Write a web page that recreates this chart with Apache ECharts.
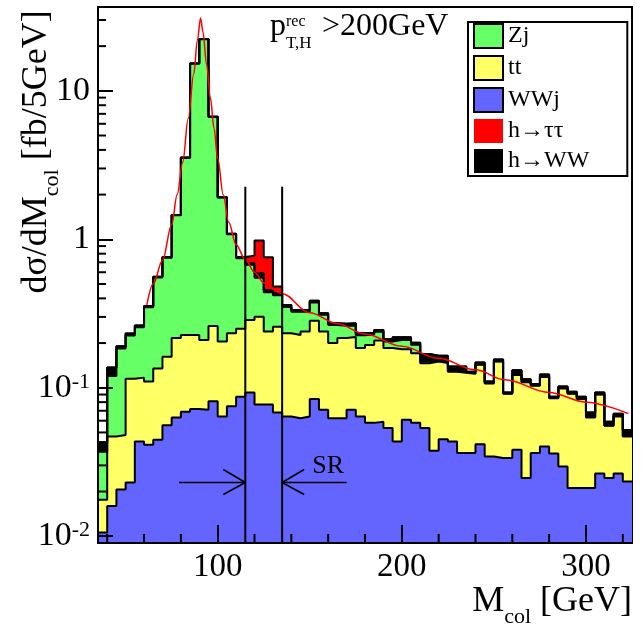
<!DOCTYPE html>
<html><head><meta charset="utf-8">
<script src="https://cdn.jsdelivr.net/npm/echarts@6/dist/echarts.min.js"></script>
<style>html,body{margin:0;padding:0;background:#fff}#c{width:644px;height:630px}</style>
</head><body><div id="c"></div>
<script>
// ---- data ----
const massEdges = [35,40,45,50,55,60,65,70,75,80,85,90,95,100,105,110,115,120,125,130,135,140,145,150,155,160,165,170,175,180,185,190,195,200,205,210,215,220,225,230,235,240,245,250,255,260,265,270,275,280,285,290,295,300,305,310,315,320,325];
const wwj = [0.0106,0.016,0.0206,0.023,0.0434,0.0413,0.0446,0.056,0.063,0.069,
  0.072,0.071,0.081,0.064,0.075,0.087,0.093,0.077,0.077,0.068,
  0.064,0.0624,0.064,0.084,0.071,0.0624,0.0624,0.071,0.064,0.058,
  0.059,0.0535,0.0434,0.0608,0.058,0.0535,0.0376,0.045,0.0434,0.0363,
  0.0363,0.0417,0.0344,0.0336,0.0336,0.0382,0.0247,0.0363,0.0402,0.036,
  0.0295,0.0211,0.0211,0.0211,0.0264,0.0247,0.0264,0.0234];
const tt = [0.0070,0.031,0.0274,0.092,0.0736,0.0687,0.0904,0.106,0.153,0.158,
  0.155,0.139,0.180,0.141,0.158,0.163,0.193,0.224,0.162,0.190,
  0.169,0.1646,0.175,0.199,0.168,0.1376,0.1536,0.149,0.121,0.136,
  0.149,0.1315,0.1386,0.1212,0.113,0.0925,0.1124,0.102,0.0846,0.0897,
  0.0877,0.1013,0.0726,0.1164,0.0574,0.0838,0.0843,0.0667,0.0778,0.049,
  0.0695,0.0699,0.0629,0.0419,0.0636,0.0307,0.0376,0.0236];
const zj = [0.0194,0.073,0.136,0.110,0.139,0.238,0.417,0.588,1.234,3.303,
  15.05,22.07,6.43,1.705,0.847,0.495,0.389,0.249,0.201,0.162,
  0.117,0.098,0.086,0.092,0.071,0.065,0.046,0.042,0.041,0.034,
  0.030,0.020,0.028,0.028,0.024,0.004,0.002,0.002,0.002,0.001,
  0.001,0.001,0.001,0.001,0.0005,0.001,0.001,0.001,0.001,0.0005,
  0.0005,0.0005,0.0005,0.0005,0.0005,0.0003,0.0005,0.0003];
const hww = [0.006,0.017,0.006,0.007,0.007,0.007,0.008,0.010,0.010,0.020,
  0.02,0.02,0.01,0.01,0.01,0.015,0.015,0.04,0.016,0.013,
  0.011,0.009,0.009,0.011,0.008,0.007,0.008,0.010,0.007,0.007,
  0.007,0.007,0.009,0.009,0.006,0.019,0.012,0.015,0.009,0.012,
  0.003,0.004,0.002,0.004,0.0015,0.008,0.004,0.002,0.004,0.0015,
  0.0025,0.0025,0.0025,0.0045,0.0025,0.0033,0.0022,0.0047];
const htt = [0,0,0,0,0,0,0,0,0,0,
  0,0,0,0,0,0,0.085,0.39,0.301,0.047,
  0,0,0,0,0,0,0,0,0,0,
  0,0,0,0,0,0,0,0,0,0,
  0,0,0,0,0,0,0,0,0,0,
  0,0,0,0,0,0,0,0];
const fitMass = [61.5,65,70,75,78,81,84,87,89,90.7,92,94,96,98,100,103,106,110,115,120,125,130,135,150,165,180,200,220,240,256,280,300,323];
const fitValue = [0.36,0.5,0.72,1.25,2.0,3.3,6.5,13,22,31,25,15,9,5.6,3.5,2.0,1.3,0.92,0.73,0.6,0.51,0.46,0.43,0.32,0.27,0.23,0.19,0.158,0.132,0.113,0.093,0.08,0.067];
const yMajorTicks = [0.01,0.1,1,10];
const yMinorTicks = [0.02,0.03,0.04,0.05,0.06,0.07,0.08,0.09,0.2,0.3,0.4,0.5,0.6,0.7,0.8,0.9,2,3,4,5,6,7,8,9,20,30];
const xMajorTicks = [100,200,300];
const xMinorTicks = [40,60,80,120,140,160,180,220,240,260,280,320];
const srEdges = [115,135];
const srLineTop = 2.26;
const srArrowY = 0.023;
const srArrowEnds = [79,170];
const srLabelPos = [160,0.0295];

// ---- layout / styles ----
const X_MIN = 35, X_MAX = 325, Y_MIN = 0.009, Y_MAX = 36.7;
const FONT = 'Liberation Serif';
const COLORS = {zj:'#66ff66', tt:'#ffff66', wwj:'#6464ff', htt:'#ff0000', hww:'#000000'};

function cumSum(...layers){
  const out = []; let acc = layers[0].map(()=>0);
  layers.forEach(l => { acc = acc.map((a,i)=>a + l[i]); out.push(acc.slice()); });
  return out;
}
const [cW, cT, cZ, cH, cR] = cumSum(wwj, tt, zj, hww, htt);
function stepData(vals){
  const d = vals.map((v,i)=>[massEdges[i], v]);
  d.push([massEdges[vals.length], vals[vals.length-1]]);
  return d;
}
function hist(name, vals, fill){
  return {name, type:'line', step:'end', data:stepData(vals), symbol:'none', silent:true,
    color: fill, z:2,
    lineStyle:{color:'#000', width:2},
    areaStyle:{color:fill, opacity:1, origin:'start'}};
}

const chart = echarts.init(document.getElementById('c'), null, {renderer:'canvas'});
const isPow10 = v => Math.abs(Math.log10(v) - Math.round(Math.log10(v))) < 1e-6;
chart.setOption({
  animation:false,
  backgroundColor:'#fff',
  grid:{left:98, right:12, top:7, bottom:87, show:true, borderColor:'#000', borderWidth:2},
  xAxis:{type:'value', min:X_MIN, max:X_MAX, splitNumber:3, z:10,
    axisLine:{lineStyle:{color:'#000', width:2}},
    axisTick:{inside:true, length:18, lineStyle:{color:'#000', width:2}},
    splitLine:{show:false},
    axisLabel:{showMinLabel:false, showMaxLabel:false, margin:8, color:'#000', fontFamily:FONT, fontSize:33,
      formatter: v => (xMajorTicks.indexOf(v) >= 0 ? String(v) : '')}},
  yAxis:{type:'log', logBase:10, min:Y_MIN, max:Y_MAX, z:10,
    axisLine:{show:true, lineStyle:{color:'#000', width:2}},
    axisTick:{inside:true, length:15, lineStyle:{color:'#000', width:2}},
    splitLine:{show:false},
    axisLabel:{showMinLabel:false, showMaxLabel:false, margin:8, color:'#000', fontFamily:FONT, fontSize:34,
      formatter: v => {
        if (!isPow10(v)) return '';
        const e = Math.round(Math.log10(v));
        if (e >= 0) return '{b|' + String(Math.pow(10, e)) + '}';
        return '{b|10}{s|' + e + '}';
      },
      rich:{b:{fontFamily:FONT, fontSize:34, lineHeight:34, padding:[6,0,0,0], verticalAlign:'bottom', color:'#000'},
            s:{fontFamily:FONT, fontSize:22, lineHeight:22, verticalAlign:'top', color:'#000'}}}},
  legend:{orient:'vertical', left:468, top:22, itemWidth:29, itemHeight:24, itemGap:6,
    padding:[1,38,3,5], borderColor:'#000', borderWidth:2, backgroundColor:'#fff',
    selectedMode:false, icon:'rect',
    textStyle:{fontFamily:FONT, fontSize:24, lineHeight:24, color:'#000'},
    data:[
      {name:'Zj', itemStyle:{color:COLORS.zj, borderColor:'#000', borderWidth:2}},
      {name:'tt', itemStyle:{color:COLORS.tt, borderColor:'#000', borderWidth:2}},
      {name:'WWj', itemStyle:{color:COLORS.wwj, borderColor:'#000', borderWidth:2}},
      {name:'h\u2192\u03c4\u03c4', itemStyle:{color:COLORS.htt, borderWidth:0}},
      {name:'h\u2192WW', itemStyle:{color:COLORS.hww, borderWidth:0}}
    ]},
  series:[
    hist('h\u2192\u03c4\u03c4', cR, COLORS.htt),
    hist('h\u2192WW', cH, COLORS.hww),
    hist('Zj', cZ, COLORS.zj),
    hist('tt', cT, COLORS.tt),
    hist('WWj', cW, COLORS.wwj),
    {name:'fit', type:'line', data:fitMass.map((m,i)=>[m, fitValue[i]]), smooth:0.35, smoothMonotone:'x',
      symbol:'none', z:5, silent:true, lineStyle:{color:'#ff0000', width:1.5}},
    {name:'sr', type:'custom', z:6, silent:true, clip:false,
      data:[[srEdges[0], srLineTop]],
      renderItem:(params, api) => {
        const ch = [];
        const st = {stroke:'#000', lineWidth:2};
        srEdges.forEach(e => {
          const a = api.coord([e, Y_MIN]), b = api.coord([e, srLineTop]);
          ch.push({type:'line', shape:{x1:a[0], y1:a[1], x2:b[0], y2:b[1]}, style:st});
        });
        const l0 = api.coord([srArrowEnds[0], srArrowY]), l1 = api.coord([srEdges[0], srArrowY]);
        const r0 = api.coord([srArrowEnds[1], srArrowY]), r1 = api.coord([srEdges[1], srArrowY]);
        const thin = {stroke:'#000', lineWidth:1.5};
        ch.push({type:'line', shape:{x1:l0[0], y1:l0[1], x2:l1[0], y2:l1[1]}, style:thin});
        ch.push({type:'line', shape:{x1:l1[0]-22, y1:l1[1]-13, x2:l1[0], y2:l1[1]}, style:thin});
        ch.push({type:'line', shape:{x1:l1[0]-22, y1:l1[1]+12, x2:l1[0], y2:l1[1]}, style:thin});
        ch.push({type:'line', shape:{x1:r0[0], y1:r0[1], x2:r1[0], y2:r1[1]}, style:thin});
        ch.push({type:'line', shape:{x1:r1[0]+22, y1:r1[1]-13, x2:r1[0], y2:r1[1]}, style:thin});
        ch.push({type:'line', shape:{x1:r1[0]+22, y1:r1[1]+12, x2:r1[0], y2:r1[1]}, style:thin});
        const t = api.coord(srLabelPos);
        ch.push({type:'text', x:t[0], y:t[1], style:{text:'SR', fill:'#000', font:'26px "Liberation Serif"', align:'center', verticalAlign:'middle'}});
        return {type:'group', children:ch};
      }},
    {name:'ticks', type:'custom', z:11, silent:true, clip:false,
      data:[...yMinorTicks.map(v=>[X_MIN, v, 0]), ...xMinorTicks.map(v=>[v, Y_MIN, 1])],
      renderItem:(params, api) => {
        const p = api.coord([api.value(0), api.value(1)]);
        const kind = api.value(2);
        const shape = kind === 0 ? {x1:p[0], y1:p[1], x2:p[0]+8, y2:p[1]} : {x1:p[0], y1:p[1], x2:p[0], y2:p[1]-9};
        return {type:'line', shape, style:{stroke:'#000', lineWidth:2}};
      }}
  ],
  graphic:[
    {type:'text', x:43, y:152, rotation:Math.PI/2, z:20,
      style:{text:'{a|d\u03c3/dM}{s|col}{a| [fb/5GeV]}', align:'center', verticalAlign:'middle', fill:'#000',
        rich:{a:{fontFamily:FONT, fontSize:36, lineHeight:40, padding:[0,0,8,0], verticalAlign:'bottom'},
              s:{fontFamily:FONT, fontSize:22, lineHeight:22, verticalAlign:'bottom'}}}},
    {type:'text', x:632, y:608, z:20,
      style:{text:'{a|M}{s|col}{a| [GeV]}', align:'right', verticalAlign:'middle', fill:'#000',
        rich:{a:{fontFamily:FONT, fontSize:36, lineHeight:40, padding:[0,0,8,0], verticalAlign:'bottom'},
              s:{fontFamily:FONT, fontSize:22, lineHeight:22, verticalAlign:'bottom'}}}},
    {type:'text', x:270, y:27, z:20, style:{text:'p', font:'32px "Liberation Serif"', fill:'#000', align:'left', verticalAlign:'middle'}},
    {type:'text', x:286, y:22, z:20, style:{text:'rec', font:'16px "Liberation Serif"', fill:'#000', align:'left', verticalAlign:'middle'}},
    {type:'text', x:286, y:44, z:20, style:{text:'T,H', font:'17px "Liberation Serif"', fill:'#000', align:'left', verticalAlign:'middle'}},
    {type:'text', x:322, y:27, z:20, style:{text:'>200GeV', font:'32px "Liberation Serif"', fill:'#000', align:'left', verticalAlign:'middle'}}
  ]
});
</script></body></html>
